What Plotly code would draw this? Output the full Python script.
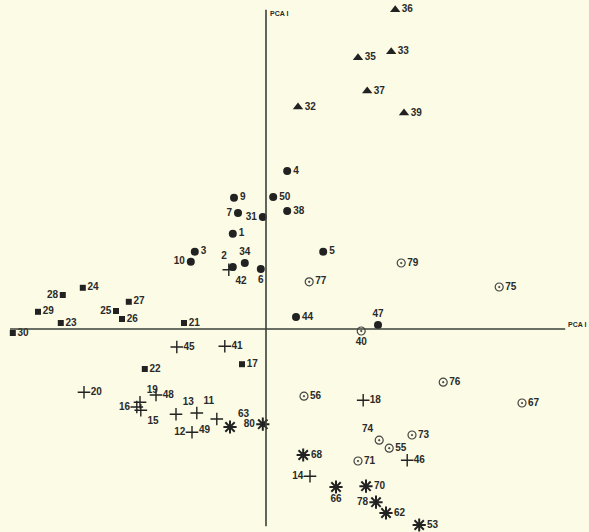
import plotly.graph_objects as go

# ---- data (PCA scores) ----
tri_ids = ["36", "33", "35", "37", "32", "39"]
tri_x = [3.23, 3.13, 2.30, 2.53, 0.80, 3.45]
tri_y = [7.98, 6.93, 6.78, 5.95, 5.55, 5.40]

dot_ids = ["4", "9", "50", "7", "31", "38", "1", "3", "10", "2", "34", "6", "5", "44", "47"]
dot_x = [0.53, -0.80, 0.18, -0.70, -0.08, 0.53, -0.83, -1.78, -1.88, -0.83, -0.53, -0.13, 1.43, 0.75, 2.80]
dot_y = [3.95, 3.28, 3.30, 2.90, 2.80, 2.95, 2.38, 1.93, 1.68, 1.55, 1.65, 1.50, 1.93, 0.30, 0.10]

ring_ids = ["77", "79", "75", "40", "76", "56", "67", "74", "73", "55", "71"]
ring_x = [1.08, 3.38, 5.83, 2.38, 4.43, 0.95, 6.40, 2.83, 3.65, 3.08, 2.30]
ring_y = [1.18, 1.65, 1.05, -0.05, -1.33, -1.68, -1.85, -2.78, -2.65, -2.98, -3.30]

sq_ids = ["24", "28", "27", "29", "25", "26", "23", "30", "21", "22", "17"]
sq_x = [-4.58, -5.08, -3.43, -5.70, -3.75, -3.60, -5.13, -6.33, -2.05, -3.03, -0.60]
sq_y = [1.03, 0.85, 0.68, 0.43, 0.45, 0.25, 0.15, -0.10, 0.15, -1.00, -0.88]

plus_ids = ["45", "41", "20", "48", "19", "16", "15", "13", "11", "49", "12", "42", "18", "46", "14"]
plus_x = [-2.23, -1.03, -4.55, -2.75, -3.15, -3.23, -3.13, -2.25, -1.73, -1.23, -1.85, -0.93, 2.43, 3.53, 1.10]
plus_y = [-0.45, -0.43, -1.58, -1.65, -1.83, -1.95, -2.03, -2.13, -2.10, -2.25, -2.58, 1.48, -1.78, -3.28, -3.68]

star_ids = ["63", "80", "68", "66", "70", "78", "62", "53"]
star_x = [-0.90, -0.08, 0.93, 1.75, 2.50, 2.75, 3.00, 3.83]
star_y = [-2.45, -2.38, -3.15, -3.95, -3.93, -4.33, -4.60, -4.90]

# ---- label placement (style) ----
label_pos = {
    "7": "middle left", "31": "middle left", "10": "middle left", "2": "top left",
    "34": "top center", "6": "bottom center", "47": "top center", "40": "bottom center",
    "74": "top left", "28": "middle left", "25": "middle left", "19": "top right",
    "16": "middle left", "15": "bottom right", "13": "top right", "11": "top right",
    "49": "bottom left", "12": "middle left", "42": "bottom right", "14": "middle left",
    "63": "top right", "80": "middle left", "66": "bottom center", "78": "middle left",
}

BG = "#fbfbe6"
INK = "#222222"
FONT = "Liberation Sans, Arial, sans-serif"
TXT = dict(family=FONT, size=10, color="#2a2a2a", weight="bold")


def pos(ids):
    return [label_pos.get(i, "middle right") for i in ids]


fig = go.Figure()

groups = [
    (tri_ids, tri_x, tri_y, dict(symbol="triangle-up", size=9, color=INK)),
    (dot_ids, dot_x, dot_y, dict(symbol="circle", size=8, color=INK)),
    (ring_ids, ring_x, ring_y, dict(symbol="circle-open-dot", size=8, color="#444444", line=dict(width=1.2))),
    (sq_ids, sq_x, sq_y, dict(symbol="square", size=6, color=INK)),
    (plus_ids, plus_x, plus_y, dict(symbol="cross-thin-open", size=9, color=INK, line=dict(width=1.4, color=INK))),
    (star_ids, star_x, star_y, dict(symbol="asterisk-open", size=11, color=INK, line=dict(width=2, color=INK))),
]

for ids, xs, ys, mk in groups:
    fig.add_trace(go.Scatter(
        x=xs, y=ys, mode="markers+text", text=ids, textposition=pos(ids),
        textfont=TXT, marker=mk, showlegend=False, cliponaxis=False,
    ))

# axes drawn through the origin
fig.add_shape(type="line", x0=0, x1=0, y0=-4.93, y1=7.98, line=dict(color="#3c4238", width=1.6))
fig.add_shape(type="line", x0=-6.4, x1=7.48, y0=0, y1=0, line=dict(color="#3c4238", width=1.6))

fig.add_annotation(x=0.05, y=7.88, text="PCA I", showarrow=False, xanchor="left", yanchor="middle",
                   font=dict(family=FONT, size=7, color="#2a2a2a", weight="bold"))
fig.add_annotation(x=7.5, y=0.12, text="PCA I", showarrow=False, xanchor="left", yanchor="middle",
                   font=dict(family=FONT, size=7, color="#2a2a2a", weight="bold"))

fig.update_xaxes(range=[-6.65, 8.075], visible=False, showgrid=False, zeroline=False)
fig.update_yaxes(range=[-5.075, 8.225], visible=False, showgrid=False, zeroline=False)
fig.update_layout(
    width=589, height=532, margin=dict(l=0, r=0, t=0, b=0),
    paper_bgcolor=BG, plot_bgcolor=BG, hovermode=False,
)

fig.write_html(
    "out.html",
    config={"displayModeBar": False, "staticPlot": True},
    post_script=(
        "document.body.style.margin='0';"
        "document.body.style.overflow='hidden';"
        "document.body.style.background='" + BG + "';"
    ),
)
